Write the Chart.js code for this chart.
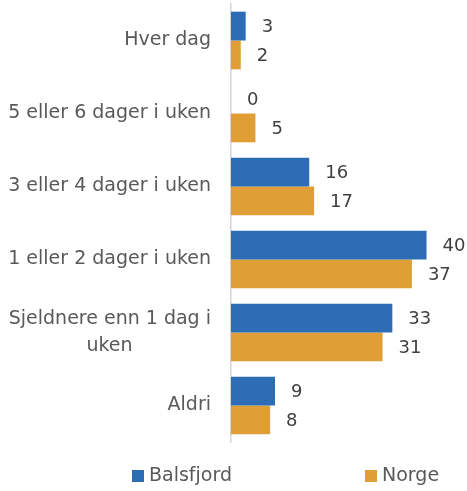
<!DOCTYPE html>
<html>
<head>
<meta charset="utf-8">
<script src="https://cdn.jsdelivr.net/npm/chart.js@4/dist/chart.umd.min.js"></script>
<style>
html,body{margin:0;padding:0;background:#fff;}
#wrap{width:467px;height:491px;}
</style>
</head>
<body>
<div id="wrap"><canvas id="c" width="467" height="491"></canvas></div>
<script>
const categories = [["Hver dag"], ["5 eller 6 dager i uken"], ["3 eller 4 dager i uken"], ["1 eller 2 dager i uken"], ["Sjeldnere enn 1 dag i", "uken"], ["Aldri"]];
const seriesNames = ["Balsfjord", "Norge"];
const balsfjord = [3, 0, 16, 40, 33, 9];
const norge = [2, 5, 17, 37, 31, 8];
const colors = ["#2D6DB6", "#E09F36"];

const FONT = "'DejaVu Sans', sans-serif";
const FS = 19;
const VFS = 18;

// center wrapped lines under the longest line (right-aligned ticks)
const mctx = document.createElement('canvas').getContext('2d');
mctx.font = FS + "px " + FONT;
function centerLines(lines) {
  if (lines.length < 2) return lines.length === 1 ? lines[0] : lines;
  const w = lines.map(l => mctx.measureText(l).width);
  const maxW = Math.max(...w);
  const sp = mctx.measureText('\u00a0').width;
  return lines.map((l, i) => l + '\u00a0'.repeat(Math.round((maxW - w[i]) / 2 / sp)));
}
const labels = categories.map(centerLines);

const valueLabels = {
  id: 'valueLabels',
  afterDatasetsDraw(chart) {
    const ctx = chart.ctx;
    ctx.save();
    ctx.font = VFS + "px " + FONT;
    ctx.fillStyle = '#404040';
    ctx.textAlign = 'left';
    ctx.textBaseline = 'middle';
    chart.data.datasets.forEach((ds, di) => {
      chart.getDatasetMeta(di).data.forEach((bar, i) => {
        ctx.fillText(String(ds.data[i]), bar.x + 16, bar.y + 1);
      });
    });
    ctx.restore();
  }
};

const customLegend = {
  id: 'customLegend',
  afterDraw(chart) {
    const ctx = chart.ctx;
    ctx.save();
    ctx.font = FS + "px " + FONT;
    ctx.textBaseline = 'middle';
    ctx.textAlign = 'left';
    const xs = [132, 365];
    const y = 476;
    chart.data.datasets.forEach((ds, i) => {
      ctx.fillStyle = ds.backgroundColor;
      ctx.fillRect(xs[i], y - 6, 12, 12);
      ctx.fillStyle = '#595959';
      ctx.fillText(ds.label, xs[i] + 17, y);
    });
    ctx.restore();
  }
};

new Chart(document.getElementById('c'), {
  type: 'bar',
  data: {
    labels: labels,
    datasets: [
      { label: seriesNames[0], data: balsfjord, backgroundColor: colors[0] },
      { label: seriesNames[1], data: norge, backgroundColor: colors[1] }
    ]
  },
  options: {
    indexAxis: 'y',
    responsive: false,
    animation: false,
    events: [],
    categoryPercentage: 0.79,
    barPercentage: 1.0,
    layout: { padding: { top: 4, bottom: 49, right: 16, left: 0 } },
    plugins: { legend: { display: false }, tooltip: { enabled: false } },
    scales: {
      x: { display: false, min: 0, max: 45 },
      y: {
        afterFit(scale) { scale.width = 231; scale.paddingTop = 0; scale.paddingBottom = 0; },
        grid: { display: false, drawTicks: false },
        border: { display: true, color: '#D4D4D4', width: 1.5 },
        ticks: {
          padding: 20,
          color: '#595959',
          font: { family: FONT, size: FS, lineHeight: 1.42 }
        }
      }
    }
  },
  plugins: [valueLabels, customLegend]
});
</script>
</body>
</html>
